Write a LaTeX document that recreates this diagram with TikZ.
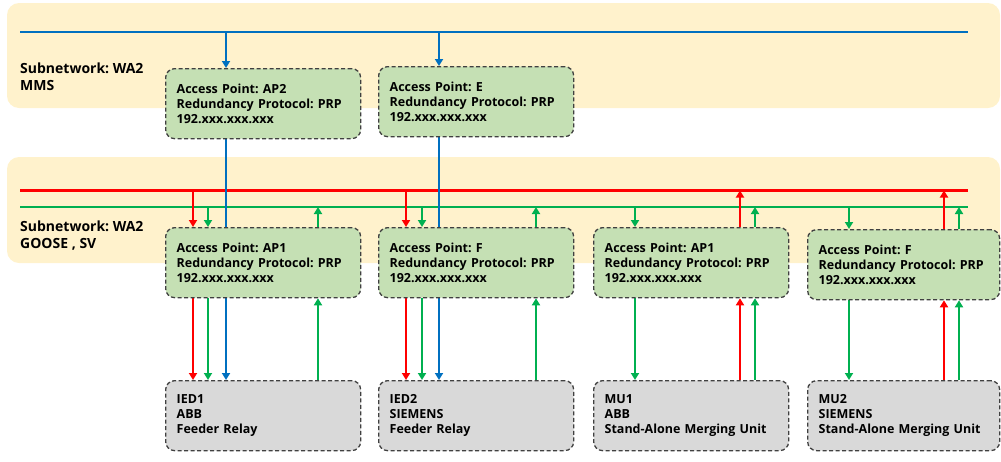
\documentclass[tikz,border=0pt]{standalone}
\usepackage{fontspec}
\setmainfont{Open Sans}
\frenchspacing
\usetikzlibrary{arrows.meta}

\definecolor{bandyellow}{HTML}{FFF2CC}
\definecolor{apgreen}{HTML}{C5E0B4}
\definecolor{devgrey}{HTML}{D9D9D9}
\definecolor{edgegrey}{HTML}{404040}
\definecolor{mmsblue}{HTML}{0070C0}
\definecolor{goosegreen}{HTML}{00B050}
\definecolor{svred}{HTML}{FF0000}

\pgfdeclarelayer{bandlayer}
\pgfdeclarelayer{wirelayer}
\pgfsetlayers{bandlayer,wirelayer,main}

\tikzset{
  band/.style={fill=bandyellow, rounded corners=12pt},
  card/.style={draw=edgegrey, line width=1.3pt, dash pattern=on 4pt off 2.5pt,
    rounded corners=9pt, anchor=north west, minimum width=195pt,
    minimum height=70pt, text width=173pt, inner xsep=11pt, inner ysep=0pt,
    align=left, font=\bfseries\fontsize{12.5}{15.2}\selectfont},
  apcard/.style={card, fill=apgreen},
  devcard/.style={card, fill=devgrey},
  netlabel/.style={anchor=west, inner sep=0pt, align=left,
    font=\bfseries\fontsize{14}{17.5}\selectfont},
  bus/.style={line width=2.8pt},
  wire/.style={line width=2.8pt, -{Triangle[length=7pt,width=8pt]}},
}

\begin{document}
\begin{tikzpicture}[x=1pt, y=-1pt]
\useasboundingbox (0,0) rectangle (1001,461);

% access points and devices
\node[apcard] (mmsA) at (165,68) {Access Point: AP2\\Redundancy Protocol: PRP\\192.xxx.xxx.xxx};
\node[apcard] (mmsE) at (378,66) {Access Point: E\\Redundancy Protocol: PRP\\192.xxx.xxx.xxx};

\node[apcard] (gsA) at (165,227) {Access Point: AP1\\Redundancy Protocol: PRP\\192.xxx.xxx.xxx};
\node[apcard] (gsF) at (378,227) {Access Point: F\\Redundancy Protocol: PRP\\192.xxx.xxx.xxx};
\node[apcard] (gsM1) at (593,227) {Access Point: AP1\\Redundancy Protocol: PRP\\192.xxx.xxx.xxx};
\node[apcard, minimum width=192pt, text width=170pt] (gsM2) at (807,229) {Access Point: F\\Redundancy Protocol: PRP\\192.xxx.xxx.xxx};

\node[devcard] (ied1) at (165,380) {IED1\\ABB\\Feeder Relay};
\node[devcard] (ied2) at (378,380) {IED2\\SIEMENS\\Feeder Relay};
\node[devcard] (mu1) at (593,380) {MU1\\ABB\\Stand-Alone Merging Unit};
\node[devcard, minimum width=192pt, text width=170pt] (mu2) at (807,380) {MU2\\SIEMENS\\Stand-Alone Merging Unit};

\node[netlabel] (lblmms) at (20,76.5) {Subnetwork: WA2\\MMS};
\node[netlabel] (lblgoose) at (20,235.5) {Subnetwork: WA2\\GOOSE , SV};

% subnetwork bands
\begin{pgfonlayer}{bandlayer}
\fill[band] (7,3) rectangle (1000,108);
\fill[band] (7,157) rectangle (1000,263);
\end{pgfonlayer}

\begin{pgfonlayer}{wirelayer}
% buses
\coordinate (blueL) at (20,32);
\coordinate (blueR) at (968,32);
\coordinate (redL) at (20,190.5);
\coordinate (redR) at (968,190.5);
\coordinate (grnL) at (20,207);
\coordinate (grnR) at (968,207);
\draw[bus, mmsblue] (blueL) -- (blueR);
\draw[bus, svred] (redL) -- (redR);
\draw[bus, goosegreen] (grnL) -- (grnR);

% red bus down to the relays
\foreach \ap/\dev in {gsA/ied1, gsF/ied2} {
  \draw[wire, svred] ([xshift=28]\ap.north west |- redL) -- ([xshift=28]\ap.north west);
  \draw[wire, svred] ([xshift=28]\ap.south west) -- ([xshift=28]\dev.north west);
}

% green bus down to every device
\foreach \ap/\dev/\dx in {gsA/ied1/43, gsF/ied2/44, gsM1/mu1/42, gsM2/mu2/42} {
  \draw[wire, goosegreen] ([xshift=\dx]\ap.north west |- grnL) -- ([xshift=\dx]\ap.north west);
  \draw[wire, goosegreen] ([xshift=\dx]\ap.south west) -- ([xshift=\dx]\dev.north west);
}

% green back up to the bus
\foreach \ap/\dev/\dx in {gsA/ied1/153, gsF/ied2/158, gsM1/mu1/162, gsM2/mu2/152} {
  \draw[wire, goosegreen] ([xshift=\dx]\dev.north west) -- ([xshift=\dx]\ap.south west);
  \draw[wire, goosegreen] ([xshift=\dx]\ap.north west) -- ([xshift=\dx]\ap.north west |- grnL);
}

% merging units up to the red bus
\foreach \ap/\dev/\dx in {gsM1/mu1/147, gsM2/mu2/137} {
  \draw[wire, svred] ([xshift=\dx]\dev.north west) -- ([xshift=\dx]\ap.south west);
  \draw[wire, svred] ([xshift=\dx]\ap.north west) -- ([xshift=\dx]\ap.north west |- redL);
}

% MMS, through to the relays
\foreach \ap/\dev in {mmsA/ied1, mmsE/ied2} {
  \draw[wire, mmsblue] ([xshift=61]\ap.north west |- blueL) -- ([xshift=61]\ap.north west);
  \draw[wire, mmsblue] ([xshift=61]\ap.south west) -- ([xshift=61]\dev.north west);
}
\end{pgfonlayer}

\end{tikzpicture}
\end{document}
